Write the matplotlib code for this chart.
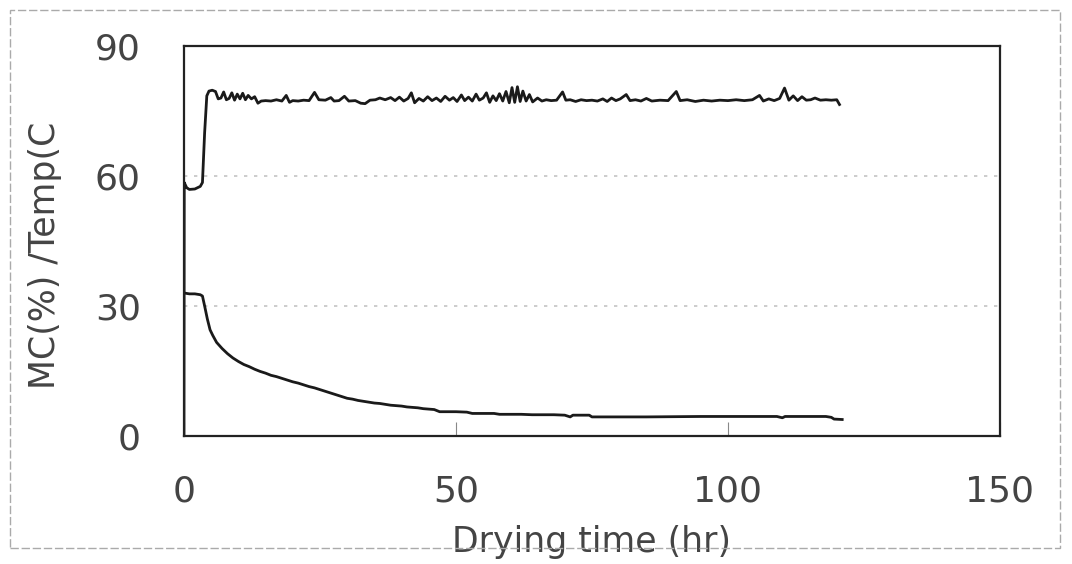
import matplotlib.pyplot as plt
from matplotlib.patches import Rectangle

# kiln temperature log (hr, deg C)
temp_t = [0, 0.05, 0.5, 1, 2, 3, 3.4, 3.8, 4.2, 4.6, 5.2, 5.8, 6.3, 6.8, 7.3, 7.8,
          8.3, 8.8, 9.3, 9.8, 10.3, 10.8, 11.3, 11.8, 12.4, 13.0, 13.6, 14.2, 15, 16,
          17, 18, 18.8, 19.4, 20, 21, 22, 23, 24, 24.8, 26, 27, 27.6, 28.5, 29.5,
          30.3, 31.5, 32.5, 33.3, 34.2, 35.2, 36, 37, 38, 38.8, 39.6, 40.4, 41.2,
          41.8, 42.4, 43.2, 44, 44.8, 45.6, 46.4, 47.2, 48, 48.8, 49.5, 50.2, 51,
          51.6, 52.3, 53, 53.7, 54.3, 55, 55.6, 56.2, 56.8, 57.4, 58, 58.6, 59.2,
          59.8, 60.3, 60.8, 61.3, 61.8, 62.3, 62.9, 63.5, 64.1, 65, 65.8, 66.6,
          67.5, 68.5, 69.6, 70.2, 71, 72, 73, 74, 75, 76, 77, 77.8, 78.6, 79.4,
          80.2, 81.3, 82, 83, 84, 85, 86, 87.5, 89, 90.5, 91.2, 92.5, 94, 95.5,
          97, 98.5, 100, 101.5, 103, 104.5, 105.8, 106.5, 107.5, 108.5, 109.5,
          110.4, 111.2, 112, 112.8, 113.6, 114.4, 115.2, 116, 117, 118, 119, 120,
          120.5]
temp_v = [0, 58.5, 57.3, 56.9, 57.0, 57.6, 58.5, 70, 78.5, 79.6, 79.8, 79.5, 77.8,
          78.0, 79.4, 77.6, 77.9, 79.2, 77.5, 78.9, 77.8, 79.1, 77.6, 78.6, 77.8,
          78.3, 76.8, 77.3, 77.4, 77.3, 77.6, 77.3, 78.6, 77.0, 77.4, 77.3, 77.5,
          77.4, 79.3, 77.6, 77.5, 78.1, 77.3, 77.4, 78.4, 77.3, 77.4, 76.8, 76.7,
          77.5, 77.6, 78.0, 77.6, 78.1, 77.4, 78.2, 77.3, 77.9, 79.2, 76.9, 77.9,
          77.3, 78.3, 77.4, 78.0, 77.2, 78.4, 77.5, 78.1, 77.2, 78.7, 77.4, 78.2,
          77.3, 78.9, 77.5, 78.0, 79.2, 77.0, 78.5, 77.4, 79.0, 77.3, 79.5, 76.9,
          80.4, 77.0, 80.6, 77.2, 79.6, 77.3, 78.8, 77.1, 78.0, 77.3, 77.6, 77.4,
          77.5, 79.4, 77.5, 77.6, 77.2, 77.6, 77.4, 77.5, 77.3, 77.8, 77.2, 78.0,
          77.4, 77.8, 78.8, 77.4, 77.6, 77.3, 77.9, 77.3, 77.5, 77.4, 79.5, 77.4,
          77.6, 77.2, 77.5, 77.3, 77.5, 77.4, 77.6, 77.4, 77.6, 78.6, 77.3, 77.8,
          77.4, 77.9, 80.3, 77.5, 78.5, 77.4, 78.3, 77.5, 77.6, 78.0, 77.5, 77.6,
          77.5, 77.6, 76.5]

# moisture content (hr, %)
mc_t = [0, 1, 2, 3, 3.4, 3.8, 4.3, 4.8, 5.3, 6, 7, 8, 9, 10, 11, 12, 13, 14, 15,
        16, 17, 18, 19, 20, 21, 22, 23, 24, 25, 26, 27, 28, 29, 30, 31, 32, 33,
        34, 35, 36, 37, 38, 39, 40, 41, 42, 43, 44, 45, 46, 47, 50, 52, 53, 57,
        58, 62, 64, 68, 70, 71, 71.5, 73, 74.5, 75, 85, 95, 105, 109, 110, 110.5,
        118, 119, 119.5, 121]
mc_v = [33.0, 32.8, 32.8, 32.6, 32.3, 30, 27, 24.5, 23.2, 21.6, 20.2, 19.0, 18.0,
        17.2, 16.5, 16.0, 15.4, 14.9, 14.5, 14.0, 13.7, 13.3, 12.9, 12.5, 12.2,
        11.8, 11.4, 11.1, 10.7, 10.3, 9.9, 9.5, 9.1, 8.7, 8.5, 8.2, 8.0, 7.8, 7.6,
        7.5, 7.3, 7.1, 7.0, 6.9, 6.7, 6.6, 6.5, 6.3, 6.2, 6.1, 5.6, 5.6, 5.5, 5.2,
        5.2, 5.0, 5.0, 4.9, 4.9, 4.8, 4.4, 4.8, 4.8, 4.8, 4.4, 4.4, 4.5, 4.5, 4.5,
        4.2, 4.5, 4.5, 4.3, 3.9, 3.8]

plt.rcParams['font.family'] = ['DejaVu Sans']
txt = '#444444'

fig = plt.figure(figsize=(10.72, 5.64), dpi=100)
ax = fig.add_axes([0.1716, 0.227, 0.7612, 0.6914])

ax.plot(temp_t, temp_v, color='#1a1a1a', lw=2.0)
ax.plot(mc_t, mc_v, color='#1a1a1a', lw=2.0)

ax.set_xlim(0, 150)
ax.set_ylim(0, 90)
ax.set_xticks([0, 50, 100, 150])
ax.set_yticks([0, 30, 60, 90])
ax.tick_params(axis='x', direction='in', length=10, width=0.8, color='#888888',
               pad=28, labelsize=26, labelcolor=txt)
ax.tick_params(axis='y', length=0, pad=31, labelsize=26, labelcolor=txt)

for v in (30, 60):
    ax.axhline(v, color='#c4c4c4', lw=1.2, ls=(0, (2, 4)), zorder=0)

for s in ax.spines.values():
    s.set_linewidth(1.6)
    s.set_color('#222222')

ax.set_xlabel('Drying time (hr)', fontsize=25, color=txt)
ax.set_ylabel('MC(%) /Temp(C', fontsize=25, color=txt)
ax.xaxis.set_label_coords(0.5, -0.228)
ax.yaxis.set_label_coords(-0.150, 0.464)

# outer border of the chart sheet
fig.patches.append(Rectangle((0.009, 0.028), 0.98, 0.955, transform=fig.transFigure,
                             fill=False, ec='#aaaaaa', lw=1.0, ls=(0, (6, 2))))

fig.savefig('out.png', dpi=100)
